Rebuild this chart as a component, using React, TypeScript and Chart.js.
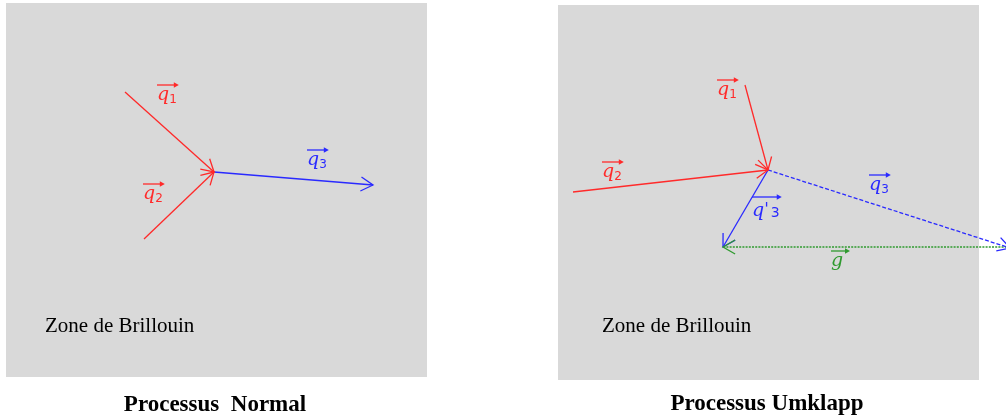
import React, { useEffect, useRef } from "react";
import { Chart, registerables } from "chart.js";

Chart.register(...registerables);

// Brillouin-zone panels (diagram units = pixels of the 1006x420 figure)
const panelLeft = [6, 558];
const panelRight = [427, 979];
const panelTop = [3, 5];
const panelBottom = [377, 380];

// Wave vectors: start and end points
const vectorNames = ["q1 (N)", "q2 (N)", "q3 (N)", "q1 (U)", "q2 (U)", "q3 (U)", "q'3 (U)", "g (U)"];
const vectorStartX = [125, 144, 214, 745, 573, 768, 768, 1010];
const vectorStartY = [92, 239, 172, 85, 192, 170, 170, 247];
const vectorEndX = [214, 214, 373, 768, 768, 1010, 723, 723];
const vectorEndY = [172, 172, 185, 170, 170, 248, 247, 247];
const vectorColors = ["#ff2a2a", "#ff2a2a", "#2a2aff", "#ff2a2a", "#ff2a2a", "#2a2aff", "#2a2aff", "#2f9a2f"];
const vectorDashes: number[][] = [[], [], [], [], [], [4, 2], [], [2, 1.2]];

// Vector labels
const labelBase = ["q", "q", "q", "q", "q", "q", "q", "g"];
const labelPrime = [false, false, false, false, false, false, true, false];
const labelSub = ["1", "2", "3", "1", "2", "3", "3", ""];
const labelX = [157, 143, 307, 717, 602, 869, 752, 831];
const labelY = [100, 199, 165, 95, 177, 190, 216, 266];
const labelColors = ["#ff2a2a", "#ff2a2a", "#2a2aff", "#ff2a2a", "#ff2a2a", "#2a2aff", "#2a2aff", "#2f9a2f"];

// Texts
const zoneText = "Zone de Brillouin";
const zoneX = [45, 602];
const zoneY = [332, 332];
const titles = ["Processus  Normal", "Processus Umklapp"];
const titleX = [215, 767];
const titleY = [411, 410];

function drawArrowHead(ctx: CanvasRenderingContext2D, x0: number, y0: number, x1: number, y1: number, color: string) {
  const ang = Math.atan2(y1 - y0, x1 - x0);
  const len = 14;
  const spread = Math.PI / 6;
  ctx.save();
  ctx.strokeStyle = color;
  ctx.lineWidth = 1.3;
  ctx.setLineDash([]);
  ctx.beginPath();
  ctx.moveTo(x1 - len * Math.cos(ang - spread), y1 - len * Math.sin(ang - spread));
  ctx.lineTo(x1, y1);
  ctx.lineTo(x1 - len * Math.cos(ang + spread), y1 - len * Math.sin(ang + spread));
  ctx.stroke();
  ctx.restore();
}

const diagramPlugin = {
  id: "diagram",
  beforeDatasetsDraw(chart: any) {
    const { ctx, scales } = chart;
    const xs = scales.x;
    const ys = scales.y;
    ctx.save();
    ctx.fillStyle = "#d9d9d9";
    for (let i = 0; i < panelLeft.length; i++) {
      const x0 = xs.getPixelForValue(panelLeft[i]);
      const x1 = xs.getPixelForValue(panelRight[i]);
      const y0 = ys.getPixelForValue(panelTop[i]);
      const y1 = ys.getPixelForValue(panelBottom[i]);
      ctx.fillRect(x0, y0, x1 - x0, y1 - y0);
    }
    ctx.restore();
  },
  afterDatasetsDraw(chart: any) {
    const { ctx, scales } = chart;
    const xs = scales.x;
    const ys = scales.y;
    for (let i = 0; i < vectorNames.length; i++) {
      drawArrowHead(
        ctx,
        xs.getPixelForValue(vectorStartX[i]),
        ys.getPixelForValue(vectorStartY[i]),
        xs.getPixelForValue(vectorEndX[i]),
        ys.getPixelForValue(vectorEndY[i]),
        vectorColors[i]
      );
    }
    ctx.save();
    ctx.textBaseline = "alphabetic";
    for (let i = 0; i < labelBase.length; i++) {
      const x = xs.getPixelForValue(labelX[i]);
      const y = ys.getPixelForValue(labelY[i]);
      ctx.fillStyle = labelColors[i];
      ctx.strokeStyle = labelColors[i];
      ctx.textAlign = "left";
      ctx.font = "italic 19px 'DejaVu Serif'";
      ctx.fillText(labelBase[i], x, y);
      let cx = x + ctx.measureText(labelBase[i]).width;
      let top = y - 15;
      if (labelPrime[i]) {
        ctx.font = "italic 17px 'DejaVu Serif'";
        ctx.fillText("'", cx, y - 2);
        cx += ctx.measureText("'").width + 2;
        top = y - 19;
      }
      if (labelSub[i]) {
        ctx.font = labelPrime[i] ? "14px 'DejaVu Sans'" : "12px 'DejaVu Sans'";
        ctx.fillText(labelSub[i], cx, y + (labelPrime[i] ? 1 : 3));
        cx += ctx.measureText(labelSub[i]).width;
      }
      const endX = Math.max(cx, x + 17);
      // over-arrow
      ctx.lineWidth = 1.3;
      ctx.beginPath();
      ctx.moveTo(x, top);
      ctx.lineTo(endX, top);
      ctx.stroke();
      ctx.beginPath();
      ctx.moveTo(endX + 2, top);
      ctx.lineTo(endX - 3, top - 2.8);
      ctx.lineTo(endX - 3, top + 2.8);
      ctx.closePath();
      ctx.fill();
    }
    ctx.fillStyle = "#000";
    ctx.font = "21px 'Liberation Serif'";
    ctx.textAlign = "left";
    for (let i = 0; i < zoneX.length; i++) {
      ctx.fillText(zoneText, xs.getPixelForValue(zoneX[i]), ys.getPixelForValue(zoneY[i]));
    }
    ctx.font = "bold 23px 'Liberation Serif'";
    ctx.textAlign = "center";
    for (let i = 0; i < titles.length; i++) {
      ctx.fillText(titles[i], xs.getPixelForValue(titleX[i]), ys.getPixelForValue(titleY[i]));
    }
    ctx.restore();
  },
};

export default function App() {
  const canvasRef = useRef<HTMLCanvasElement | null>(null);

  useEffect(() => {
    if (!canvasRef.current) return;
    const datasets = vectorNames.map((name, i) => ({
      label: name,
      data: [
        { x: vectorStartX[i], y: vectorStartY[i] },
        { x: vectorEndX[i], y: vectorEndY[i] },
      ],
      showLine: true,
      borderColor: vectorColors[i],
      backgroundColor: vectorColors[i],
      borderWidth: 1.3,
      borderDash: vectorDashes[i],
      pointRadius: 0,
      pointHoverRadius: 0,
      clip: false as any,
    }));
    const chart = new Chart(canvasRef.current, {
      type: "scatter",
      data: { datasets },
      options: {
        animation: false,
        responsive: false,
        maintainAspectRatio: false,
        layout: { padding: 0 },
        events: [],
        plugins: { legend: { display: false }, tooltip: { enabled: false } },
        scales: {
          x: { type: "linear", min: 0, max: 1006, display: false },
          y: { type: "linear", min: 0, max: 420, reverse: true, display: false },
        },
      },
      plugins: [diagramPlugin],
    });
    return () => chart.destroy();
  }, []);

  return (
    <div style={{ position: "fixed", left: 0, top: 0, width: 1006, height: 420, background: "#fff" }}>
      <canvas ref={canvasRef} width={1006} height={420} style={{ display: "block" }} />
    </div>
  );
}
